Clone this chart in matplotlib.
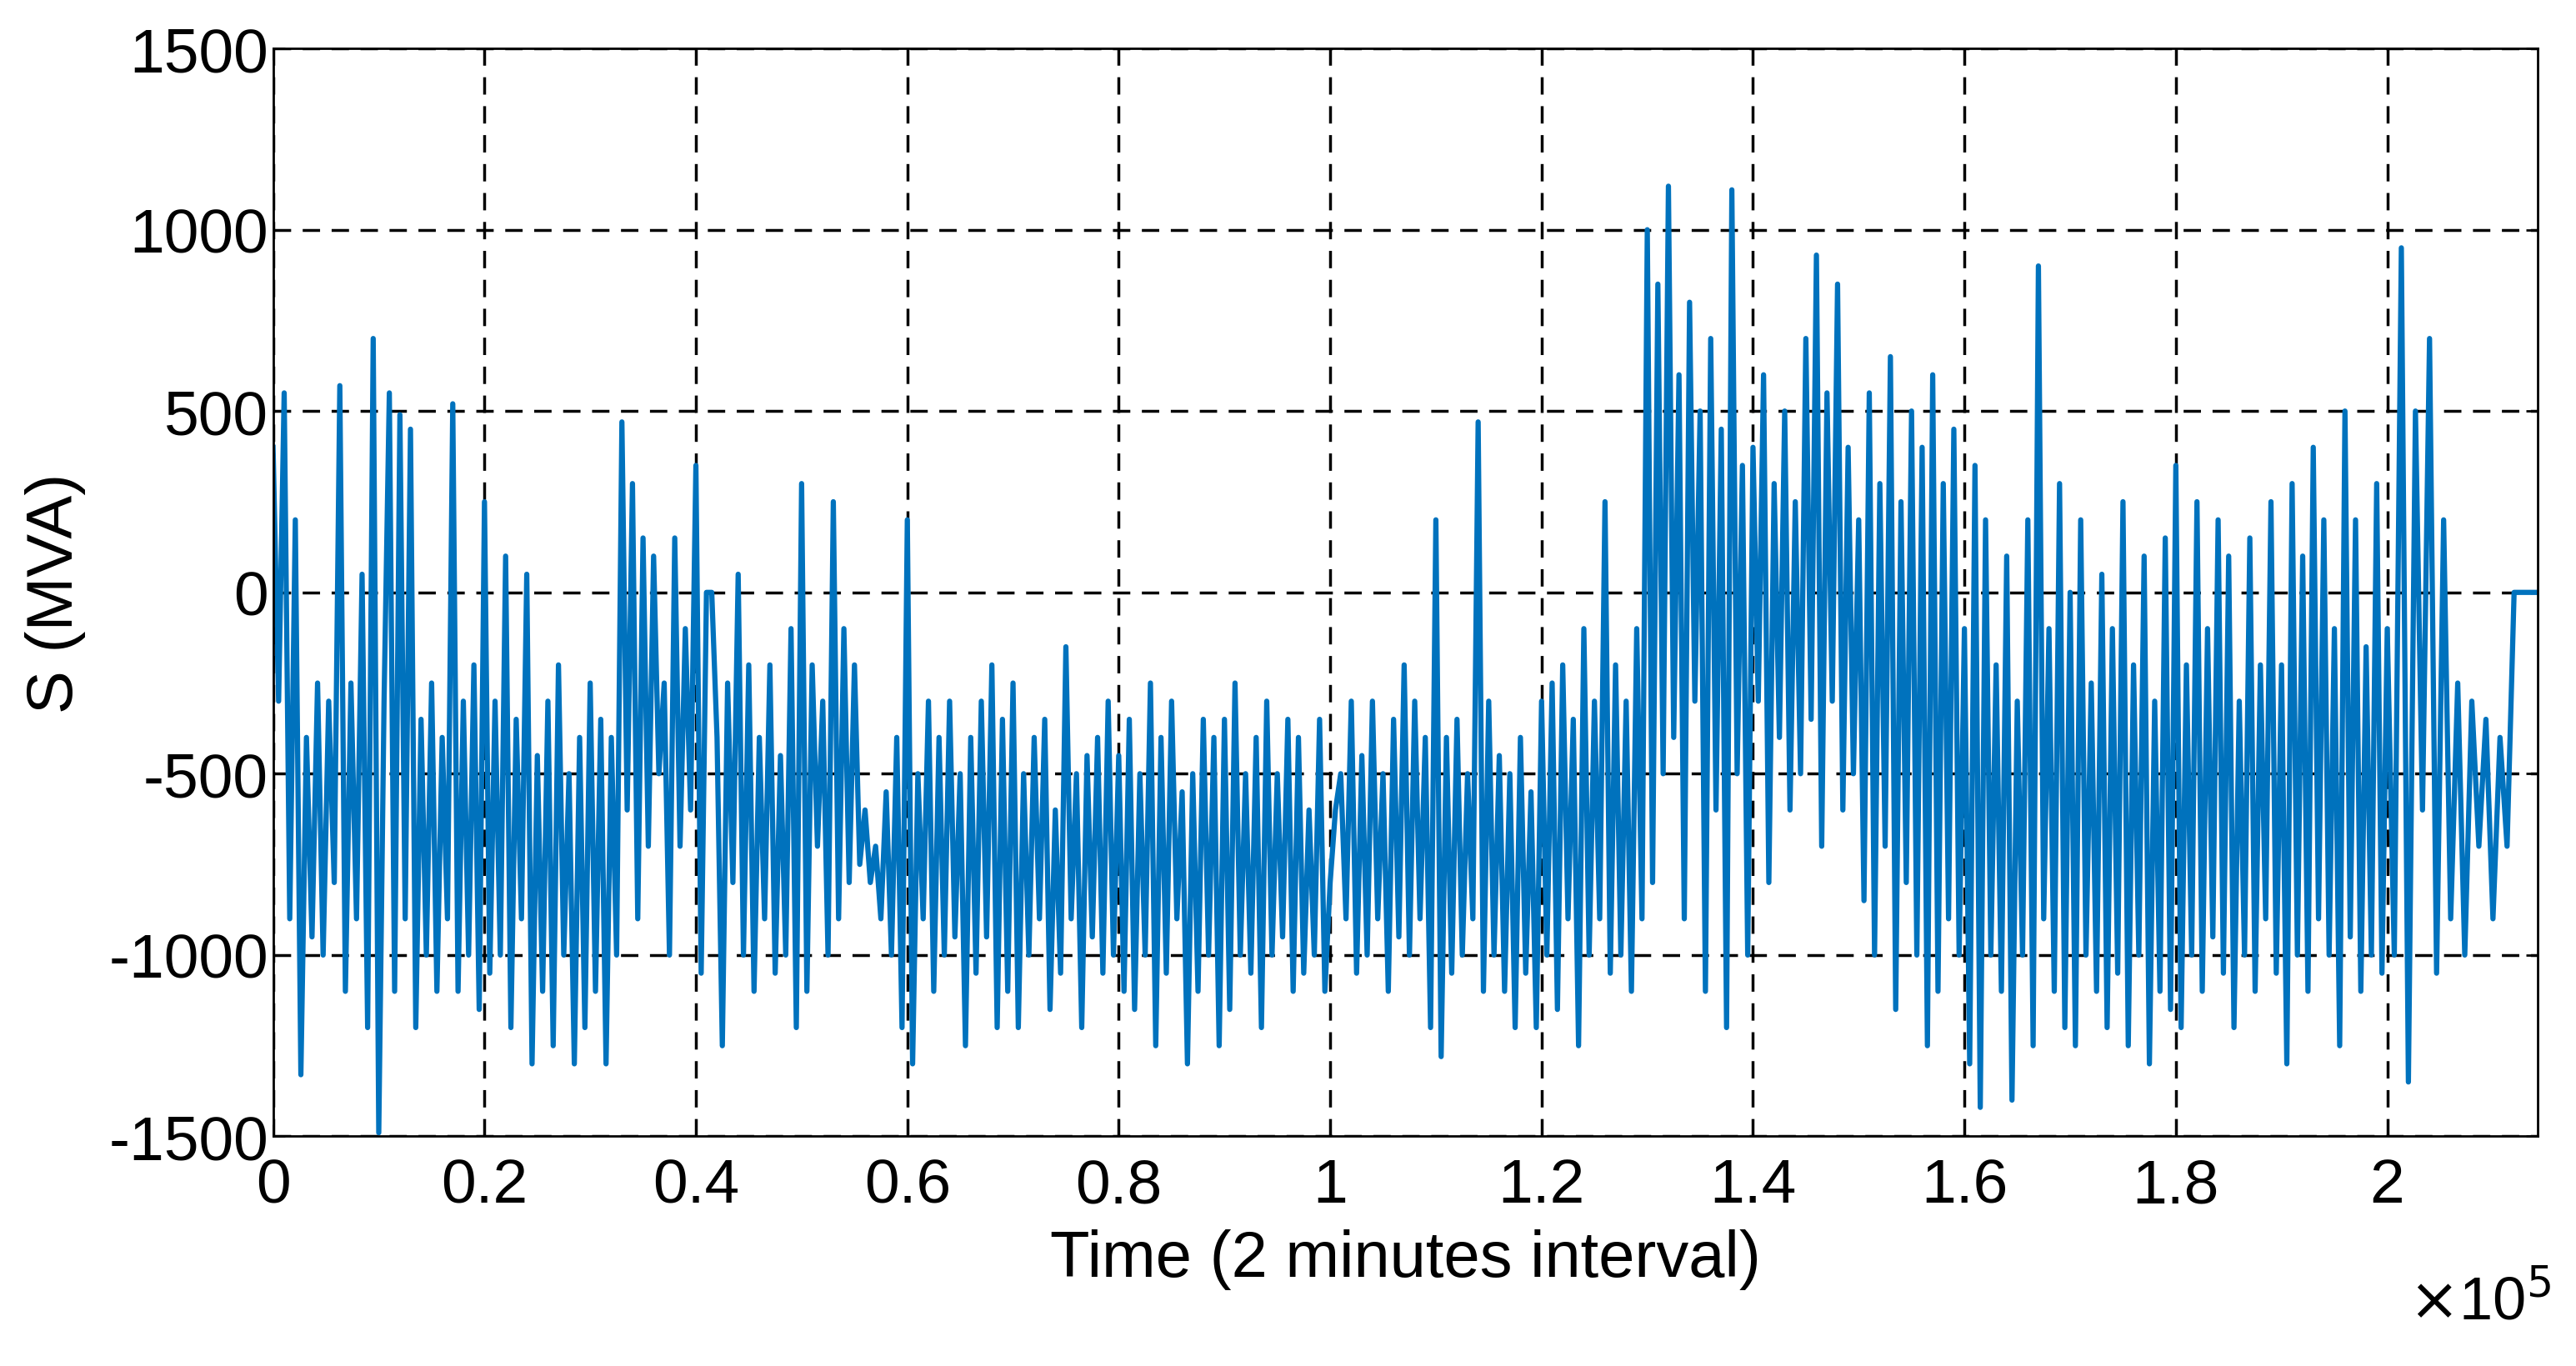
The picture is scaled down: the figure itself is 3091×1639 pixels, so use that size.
import numpy as np
import matplotlib
matplotlib.use("Agg")
import matplotlib.pyplot as plt

plt.rcParams['font.family'] = ['Liberation Sans', 'DejaVu Sans']
plt.rcParams['axes.unicode_minus'] = False

# Hand-read peaks/troughs of the signal, in order, per 10k-unit block
seg0 = [400,-300,550,-900,200,-1330,-400,-950,-250,-1000,-300,-800,570,-1100,-250,-900,50,-1200,700]
seg1 = [-1490,-300,550,-1100,490,-900,450,-1200,-350,-1000,-250,-1100,-400,-900,520,-1100,-300,-1000,-200,-1150]
seg2 = [250,-1050,-300,-1000,100,-1200,-350,-900,50,-1300,-450,-1100,-300,-1250,-200,-1000,-500,-1300,-400,-1200]
seg3 = [-250,-1100,-350,-1300,-400,-1000,470,-600,300,-900,150,-700,100,-500,-250,-1000,150,-700,-100,-600]
seg4 = [350,-1050,0,0,-400,-1250,-250,-800,50,-1000,-200,-1100,-400,-900,-200,-1050,-450,-1000,-100,-1200]
seg5 = [300,-1100,-200,-700,-300,-1000,250,-900,-100,-800,-200,-750,-600,-800,-700,-900,-550,-1000,-400,-1200]
seg6 = [200,-1300,-500,-900,-300,-1100,-400,-1000,-300,-950,-500,-1250,-400,-1050,-300,-950,-200,-1200,-350,-1100]
seg7 = [-250,-1200,-500,-1000,-400,-900,-350,-1150,-600,-1050,-150,-900,-500,-1200,-450,-950,-400,-1050,-300,-1000]
seg8 = [-450,-1100,-350,-1150,-500,-1000,-250,-1250,-400,-1050,-300,-900,-550,-1300,-500,-1100,-350,-1000,-400,-1250]
seg9 = [-350,-1150,-250,-1000,-500,-1050,-400,-1200,-300,-1000,-500,-950,-350,-1100,-400,-1050,-600,-1000,-350,-1100]
seg10 = [-800,-600,-500,-900,-300,-1050,-450,-1000,-300,-900,-500,-1100,-350,-950,-200,-1000,-300,-900,-400,-1200]
seg11 = [200,-1280,-400,-1050,-350,-1000,-500,-900,470,-1100,-300,-1000,-450,-1100,-500,-1200,-400,-1050,-550,-1200]
seg12 = [-300,-1000,-250,-1150,-200,-900,-350,-1250,-100,-1000,-300,-900,250,-1050,-200,-1000,-300,-1100,-100,-900]
seg13 = [1000,-800,850,-500,1120,-400,600,-900,800,-300,500,-1100,700,-600,450,-1200,1110,-500,350,-1000]
seg14 = [400,-300,600,-800,300,-400,500,-600,250,-500,700,-350,930,-700,550,-300,850,-600,400,-500]
seg15 = [200,-850,550,-1000,300,-700,650,-1150,250,-800,500,-1000,400,-1250,600,-1100,300,-900,450,-1000]
seg16 = [-100,-1300,350,-1420,200,-1000,-200,-1100,100,-1400,-300,-1000,200,-1250,900,-900,-100,-1100,300,-1200]
seg17 = [0,-1250,200,-1000,-250,-1100,50,-1200,-100,-1050,250,-1250,-200,-1000,100,-1300,-300,-1100,150,-1150]
seg18 = [350,-1200,-200,-1000,250,-1100,-100,-950,200,-1050,100,-1200,-300,-1000,150,-1100,-200,-900,250,-1050]
seg19 = [-200,-1300,300,-1000,100,-1100,400,-900,200,-1000,-100,-1250,500,-950,200,-1100,-150,-1000,300,-1050]
seg20 = [-100,-1000,950,-1350,500,-600,700,-1050,200,-900,-250,-1000,-300,-700,-350,-900,-400,-700]
seg21 = [0,0,0,0]

segments = [seg0,seg1,seg2,seg3,seg4,seg5,seg6,seg7,seg8,seg9,seg10,
            seg11,seg12,seg13,seg14,seg15,seg16,seg17,seg18,seg19,seg20]
starts = [i*1e4 for i in range(21)]
ends = [(i+1)*1e4 for i in range(20)] + [2.12e5]

xs, ys = [], []
for s, e, seg in zip(starts, ends, segments):
    n = len(seg)
    xs += list(s + (e - s) * np.arange(n) / n)
    ys += seg
xs += list(np.linspace(2.12e5, 2.142e5, len(seg21)))
ys += seg21

fig = plt.figure(figsize=(30.91, 16.40), dpi=100)
ax = fig.add_axes([0.106, 0.168, 0.879, 0.796])
ax.plot(xs, ys, color='#0072BD', lw=4.5)
ax.set_xlim(0, 2.142e5)
ax.set_ylim(-1500, 1500)
xt = [0, 0.2e5, 0.4e5, 0.6e5, 0.8e5, 1e5, 1.2e5, 1.4e5, 1.6e5, 1.8e5, 2e5]
xl = ['0','0.2','0.4','0.6','0.8','1','1.2','1.4','1.6','1.8','2']
ax.set_xticks(xt, xl)
ax.set_yticks([-1500,-1000,-500,0,500,1000,1500])
ax.grid(True, color='black', linestyle=(0,(6,4)), lw=2.5)
ax.tick_params(axis='both', labelsize=54, direction='in', length=10, width=2, top=True, right=True)
ax.tick_params(axis='x', pad=18)
ax.tick_params(axis='y', pad=4)
for sp in ax.spines.values():
    sp.set_linewidth(2)
ax.set_xlabel('Time (2 minutes interval)', fontsize=56, labelpad=12)
ax.set_ylabel('S (MVA)', fontsize=56, labelpad=20)
fig.text(0.935, 0.035, r'$\times$10$^5$', fontsize=52)
fig.savefig('out.png', dpi=100)
